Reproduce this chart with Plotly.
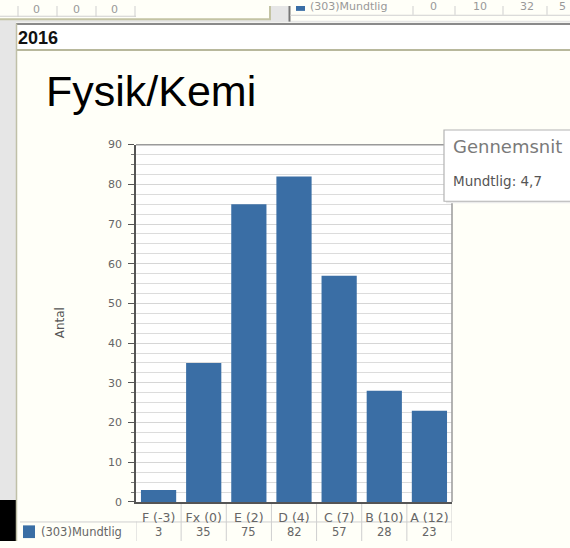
import plotly.graph_objects as go

categories = ["F (-3)", "Fx (0)", "E (2)", "D (4)", "C (7)", "B (10)", "A (12)"]
values = [3, 35, 75, 82, 57, 28, 23]
series_name = "(303)Mundtlig"
title_text = "Fysik/Kemi"
year_text = "2016"
y_title = "Antal"
tooltip_title = "Gennemsnit"
tooltip_text = "Mundtlig: 4,7"
top_left_values = ["0", "0", "0"]
top_right_values = ["0", "10", "32", "5"]

W, H = 570, 548
BLUE = "#3a6ea5"
PX0, PX1 = 136, 452
PY0, PY1 = 142, 508


def px(x):
    return x / W


def py(y):
    return 1 - y / H


fig = go.Figure()
fig.add_trace(go.Bar(x=categories, y=values, marker=dict(color=BLUE, line=dict(width=0)),
                     width=0.78, name=series_name, showlegend=False))

shapes = []
ann = []

def rect(x0, y0, x1, y1, fill, line=None, lw=0, layer="below", xref="paper"):
    shapes.append(dict(type="rect", xref=xref, yref="paper",
                       x0=px(x0) if xref == "paper" else x0, x1=px(x1) if xref == "paper" else x1,
                       y0=py(y1), y1=py(y0), fillcolor=fill,
                       line=dict(color=line or fill, width=lw), layer=layer))

def hline(x0, x1, y, color, w=1, layer="below"):
    shapes.append(dict(type="line", xref="paper", yref="paper", x0=px(x0), x1=px(x1),
                       y0=py(y), y1=py(y), line=dict(color=color, width=w), layer=layer))

def vline(x, y0, y1, color, w=1, layer="below", xref="paper"):
    shapes.append(dict(type="line", xref=xref, yref="paper",
                       x0=px(x) if xref == "paper" else x, x1=px(x) if xref == "paper" else x,
                       y0=py(y0), y1=py(y1), line=dict(color=color, width=w), layer=layer))

# page background strips
rect(0, 0, 16, H, "#e6e6e6")
rect(0, 506, 16, H, "#000000")
rect(0, 0, W, 17, "#e6e6e6")
# top-left fragment of previous panel
rect(0, 0, 270, 13, "#fffff8")
hline(0, 271, 13.5, "#c4c4a4", 2)
vline(270, 0, 14, "#c4c4a4", 2)
hline(0, 136, 10.5, "#cfcfcf", 1)
for xb in [18, 57, 96, 135]:
    vline(xb, 0, 11, "#cfcfcf", 1)
for xv, t in zip([37, 76, 114], top_left_values):
    ann.append(dict(x=px(xv), y=py(4), xref="paper", yref="paper", text=t, showarrow=False,
                    font=dict(family="DejaVu Sans", size=11, color="#999"), xanchor="center", yanchor="middle"))
# top-right fragment of previous panel
rect(289, 0, W, 15, "#fffff8")
vline(289.5, 0, 16, "#777777", 2)
hline(290, W, 9.5, "#d0d0d0", 1)
rect(296, 0, 305, 5, BLUE)
ann.append(dict(x=px(308), y=py(1), xref="paper", yref="paper", text=series_name, showarrow=False,
                font=dict(family="DejaVu Sans", size=11, color="#999"), xanchor="left", yanchor="middle"))
for xb in [413, 455, 503, 547]:
    vline(xb, 0, 9, "#cfcfcf", 1)
for xv, t in zip([433, 480, 527, 562], top_right_values):
    ann.append(dict(x=px(xv), y=py(1), xref="paper", yref="paper", text=t, showarrow=False,
                    font=dict(family="DejaVu Sans", size=11, color="#999"), xanchor="center", yanchor="middle"))

# panel header
rect(16, 18, W, 46, "#ffffff")
hline(16, W, 18.5, "#8a8a8a", 2)
hline(16, W, 45, "#b8b89c", 2)
vline(16.5, 18, H, "#c0c0a8", 1.5)
ann.append(dict(x=px(16), y=py(33), xref="paper", yref="paper", text="<b>" + year_text + "</b>",
                showarrow=False, font=dict(family="Liberation Sans", size=18, color="#111"),
                xanchor="left", yanchor="middle"))

# title
ann.append(dict(x=px(44), y=py(87), xref="paper", yref="paper", text=title_text, showarrow=False,
                font=dict(family="Liberation Sans", size=43, color="#000"), xanchor="left", yanchor="middle"))

# y axis title
ann.append(dict(x=px(60), y=py(325), xref="paper", yref="paper", text=y_title, showarrow=False,
                textangle=-90, font=dict(family="DejaVu Sans", size=12, color="#555"),
                xanchor="center", yanchor="middle"))

# plot frame top/right
hline(PX0, PX1, PY0, "#9a9a9a", 1.5, layer="above")
vline(PX1, PY0, PY1, "#9a9a9a", 1.5, layer="above")

# table under plot
hline(20, PX1, 528.5, "#cfcfcf", 1)
for i in range(1, len(categories)):
    vline(i - 0.5, 508, H, "#cfcfcf", 1, xref="x")
vline(-0.5, 528, H, "#cfcfcf", 1, xref="x")
vline(len(categories) - 0.5, 508, H, "#cfcfcf", 1, xref="x")
rect(23, 532, 35, 545, BLUE)
ann.append(dict(x=px(39), y=py(538.5), xref="paper", yref="paper", text=series_name, showarrow=False,
                font=dict(family="DejaVu Sans", size=11.5, color="#666"), xanchor="left", yanchor="middle"))
for c, v in zip(categories, values):
    ann.append(dict(x=c, y=py(538.5), xref="x", yref="paper", text=str(v), showarrow=False,
                    font=dict(family="DejaVu Sans", size=11.5, color="#666"), xanchor="center", yanchor="middle"))

# tooltip box
rect(446, 129, W + 5, 202, "#ebebeb", layer="above")
rect(444, 127, W + 5, 200, "#ffffff", line="#b4b4b4", lw=1.2, layer="above")
ann.append(dict(x=px(451), y=py(144), xref="paper", yref="paper", text=tooltip_title, showarrow=False,
                font=dict(family="DejaVu Sans", size=18, color="#7a7a7a"), xanchor="left", yanchor="middle"))
ann.append(dict(x=px(451), y=py(179), xref="paper", yref="paper", text=tooltip_text, showarrow=False,
                font=dict(family="DejaVu Sans", size=13.5, color="#555"), xanchor="left", yanchor="middle"))

fig.update_layout(
    width=W, height=H, margin=dict(l=0, r=0, t=0, b=0),
    paper_bgcolor="#fffff8", plot_bgcolor="#ffffff",
    shapes=shapes, annotations=ann, bargap=0.22, showlegend=False,
    xaxis=dict(domain=[px(PX0), px(PX1)], showline=True, linecolor="#555", linewidth=1.5,
               ticks="", showgrid=False, zeroline=False, fixedrange=True,
               tickfont=dict(family="DejaVu Sans", size=12.5, color="#666"), ticklabelstandoff=3,
               range=[-0.5, len(categories) - 0.5]),
    yaxis=dict(domain=[py(PY1), py(PY0)], range=[0, 90], dtick=10, showline=True,
               linecolor="#555", linewidth=1.5, ticks="outside", ticklen=6, tickcolor="#555",
               showgrid=True, gridcolor="#d6d6d6", gridwidth=1, zeroline=False,
               tickfont=dict(family="DejaVu Sans", size=11, color="#666"), ticklabelstandoff=4,
               minor=dict(dtick=2.5, showgrid=True, gridcolor="#dcdcdc", ticks="outside",
                          ticklen=3, tickcolor="#777")),
)

post = """
document.documentElement.style.margin='0';
document.body.style.margin='0';
document.body.style.overflow='hidden';
"""
fig.write_html("out.html", post_script=post, config={"displayModeBar": False})
